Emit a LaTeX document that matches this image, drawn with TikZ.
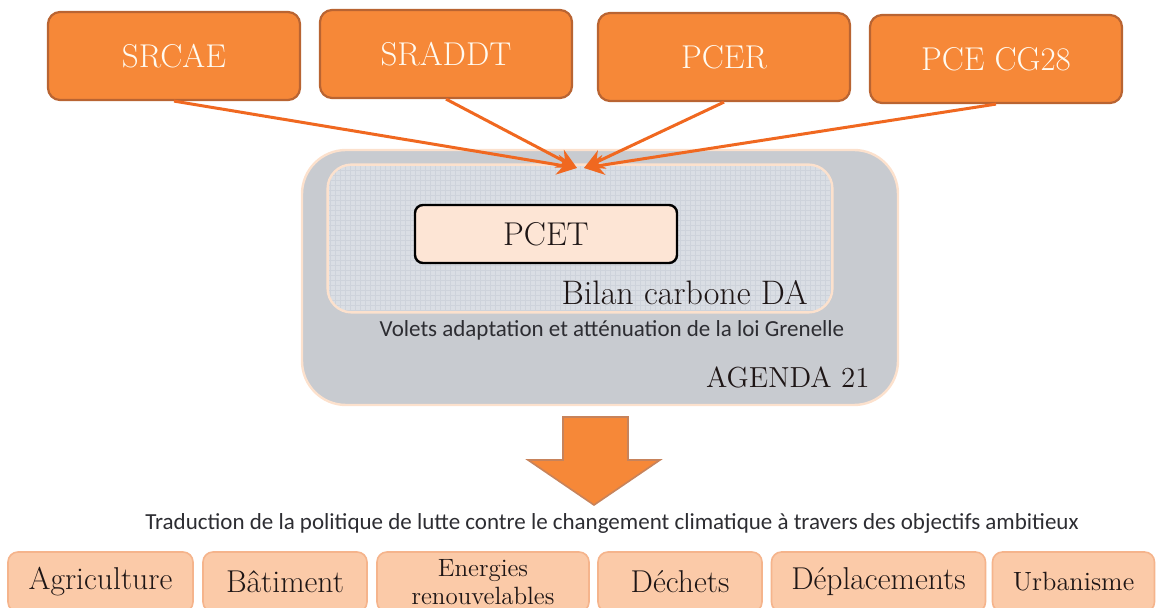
\documentclass[tikz,border=0pt]{standalone}
\usepackage{fontspec}
\newfontfamily\calibri{Carlito}
\usetikzlibrary{arrows.meta,positioning}

\definecolor{orangebox}{RGB}{246,136,56}
\definecolor{orangeedge}{RGB}{185,100,50}
\definecolor{orangeline}{RGB}{240,104,32}
\definecolor{cream}{RGB}{255,250,240}
\definecolor{agendagray}{RGB}{200,203,208}
\definecolor{agendaedge}{RGB}{252,225,205}
\definecolor{bilangray}{RGB}{218,222,228}
\definecolor{bilangrid}{RGB}{206,211,219}
\definecolor{pcetfill}{RGB}{253,229,213}
\definecolor{peach}{RGB}{251,202,168}
\definecolor{peachedge}{RGB}{245,180,140}
\definecolor{darktext}{RGB}{30,22,22}
\definecolor{graytext}{RGB}{45,45,50}

\begin{document}
\begin{tikzpicture} [x=0.5pt,y=-0.5pt,{topbox/.style={rectangle,rounded corners=6pt,draw=orangeedge,line width=1.1pt,fill=orangebox,minimum width=126pt,minimum height=44pt,text=cream,font=\fontsize{16.5}{18}\selectfont}},{themebox/.style={rectangle,rounded corners=5pt,draw=peachedge,line width=0.8pt,fill=peach,minimum height=30pt,text=darktext,inner sep=1pt}},{toarrow/.style={-{Stealth[length=10pt,width=10pt]},color=orangeline,line width=1.5pt}}]
	%%frame
	\useasboundingbox (0,0) rectangle (1158,608);
	\clip (0,0) rectangle (1158,608);
	%%documents cadres
	\node [topbox] (srcae) at (174,56) {SRCAE};
	\node [topbox] (sraddt) at (446,54) {SRADDT};
	\node [topbox] (pcer) at (724,57) {PCER};
	\node [topbox] (pcecg) at (996,59) {PCE CG28};
	%%agenda 21
	\node [rectangle,rounded corners=22pt,draw=agendaedge,line width=1.2pt,fill=agendagray,minimum width=298pt,minimum height=127.5pt] (agenda) at (600,277.5) {};
	%%bilan carbone, quadrille
	\node [rectangle,rounded corners=12pt,fill=bilangray,minimum width=252pt,minimum height=73.5pt] (bilan) at (580,238.5) {};
	\begin{scope}
		\clip [rounded corners=12pt] (bilan.north west) rectangle (bilan.south east);
		\draw [line width=0.2pt,bilangrid,step=2.5pt] (bilan.north west) grid (bilan.south east);
	\end{scope}
	\draw [agendaedge,line width=1.2pt,rounded corners=12pt] (bilan.north west) rectangle (bilan.south east);
	\node [rectangle,rounded corners=4pt,draw=black,line width=1.2pt,fill=pcetfill,minimum width=131pt,minimum height=29pt,text=darktext,font=\fontsize{16.5}{18}\selectfont] (pcet) at (546,234) {PCET};
	\node [anchor=base east,inner sep=0pt,text=darktext,font=\fontsize{17}{19}\selectfont] (bilantxt) at (808,305) {Bilan carbone DA};
	\node [inner sep=0pt,text=graytext,font=\calibri\fontsize{11.5}{13}\selectfont] (volets) at (612,330) {Volets adaptation et atténuation de la loi Grenelle};
	\node [anchor=base east,inner sep=0pt,text=darktext,font=\fontsize{14.5}{16}\selectfont] (agendatxt) at (870,388) {AGENDA 21};
	%%arrows to the pcet
	\coordinate (tipl) at (577,168);
	\coordinate (tipr) at (584,168);
	\draw [toarrow] (srcae.south) -- (tipl);
	\draw [toarrow] (sraddt.south) -- (tipl);
	\draw [toarrow] (pcer.south) -- (tipr);
	\draw [toarrow] (pcecg.south) -- (tipr);
	%%big arrow
	\draw [fill=orangebox,draw=orangeedge!80,line width=0.8pt,line join=miter] (563,417) -- (628,417) -- (628,460) -- (660,460) -- (594,505) -- (528,460) -- (563,460) -- cycle;
	\node [inner sep=0pt,text=graytext,font=\calibri\fontsize{11.5}{13}\selectfont] (traduction) at (612,523) {Traduction de la politique de lutte contre le changement climatique à travers des objectifs ambitieux};
	%%themes
	\node [themebox,minimum width=92.5pt,font=\fontsize{15.8}{17}\selectfont] (agri) at (100.5,582) {Agriculture};
	\node [themebox,minimum width=82pt,font=\fontsize{15.8}{17}\selectfont] (batiment) at (285,582) {Bâtiment};
	\node [themebox,minimum width=106pt,align=center,font=\fontsize{12.5}{14}\selectfont] (energies) at (483,582) {Energies\\renouvelables};
	\node [themebox,minimum width=82pt,font=\fontsize{15.8}{17}\selectfont] (dechets) at (680,582) {Déchets};
	\node [themebox,minimum width=107pt,font=\fontsize{15.8}{17}\selectfont] (deplacements) at (878.5,582) {Déplacements};
	\node [themebox,minimum width=81pt,font=\fontsize{13.2}{15}\selectfont] (urbanisme) at (1073.5,582) {Urbanisme};
\end{tikzpicture}
\end{document}
